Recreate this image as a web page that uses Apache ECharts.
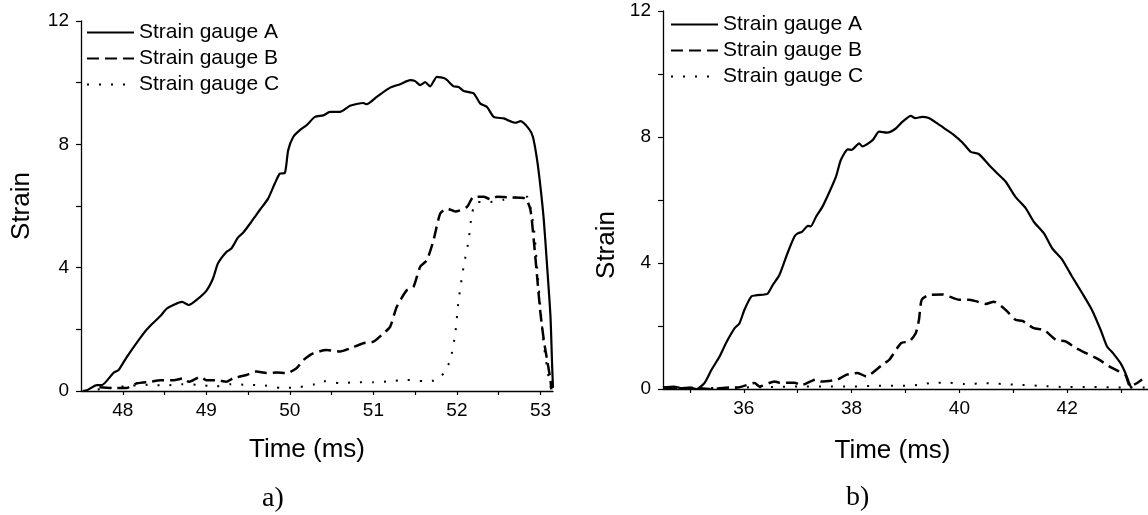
<!DOCTYPE html>
<html>
<head>
<meta charset="utf-8">
<script src="https://cdn.jsdelivr.net/npm/echarts@6/dist/echarts.min.js"></script>
<style>
html,body{margin:0;padding:0;background:#fff;}
#chart{width:1148px;height:515px;}
</style>
</head>
<body>
<div id="chart"></div>
<script>
// ---- Data ----
const seriesNames = ['Strain gauge A', 'Strain gauge B', 'Strain gauge C'];

// Panel a) time (ms) and strain
const tA1 = [47.52, 47.57, 47.69, 47.75, 47.89, 47.95, 48.05, 48.25, 48.35, 48.45, 48.53, 48.71, 48.79, 48.89, 49.0, 49.08, 49.14, 49.24, 49.30, 49.38, 49.44, 49.54, 49.64, 49.74, 49.82, 49.88, 49.94, 49.98, 50.04, 50.12, 50.2, 50.30, 50.40, 50.48, 50.60, 50.72, 50.88, 50.92, 51.04, 51.2, 51.32, 51.44, 51.5, 51.56, 51.62, 51.68, 51.76, 51.86, 51.96, 52.02, 52.08, 52.2, 52.28, 52.36, 52.44, 52.56, 52.70, 52.76, 52.86, 52.91, 52.96, 53.0, 53.04, 53.08, 53.12, 53.14, 53.15];
const vA1 = [0, 0.02, 0.19, 0.19, 0.59, 0.68, 1.11, 1.87, 2.17, 2.43, 2.68, 2.89, 2.79, 2.97, 3.25, 3.65, 4.14, 4.51, 4.62, 4.98, 5.13, 5.49, 5.87, 6.24, 6.73, 7.05, 7.07, 7.81, 8.24, 8.46, 8.62, 8.89, 8.94, 9.05, 9.05, 9.25, 9.34, 9.30, 9.54, 9.84, 9.95, 10.08, 10.05, 9.92, 10.02, 9.88, 10.19, 10.13, 9.88, 9.86, 9.73, 9.65, 9.32, 9.21, 8.89, 8.84, 8.70, 8.75, 8.51, 8.24, 7.49, 6.62, 5.54, 4.03, 2.41, 0.79, 0.1];

const tB1 = [47.72, 47.85, 48.05, 48.17, 48.33, 48.45, 48.61, 48.73, 48.79, 48.93, 49.0, 49.12, 49.24, 49.32, 49.48, 49.6, 49.72, 49.84, 49.96, 50.08, 50.16, 50.28, 50.44, 50.6, 50.72, 50.88, 51.0, 51.12, 51.2, 51.28, 51.4, 51.48, 51.56, 51.64, 51.72, 51.8, 51.88, 51.98, 52.12, 52.2, 52.32, 52.4, 52.48, 52.64, 52.82, 52.88, 52.92, 52.96, 53.0, 53.04, 53.08, 53.12, 53.13];
const vB1 = [0.12, 0.1, 0.1, 0.25, 0.3, 0.35, 0.35, 0.41, 0.3, 0.46, 0.35, 0.35, 0.3, 0.41, 0.52, 0.63, 0.58, 0.6, 0.58, 0.74, 1.0, 1.22, 1.33, 1.28, 1.38, 1.55, 1.6, 1.87, 2.08, 2.73, 3.27, 3.38, 4.03, 4.24, 4.89, 5.76, 5.92, 5.82, 5.97, 6.30, 6.3, 6.22, 6.3, 6.28, 6.25, 5.87, 4.89, 3.70, 2.52, 1.65, 1.0, 0.35, 0.05];

const tC1 = [47.7, 47.9, 48.1, 48.3, 48.5, 48.7, 48.9, 49.1, 49.3, 49.5, 49.7, 49.9, 50.1, 50.3, 50.4, 50.6, 50.8, 51.0, 51.2, 51.4, 51.6, 51.75, 51.84, 51.92, 51.98, 52.02, 52.08, 52.14, 52.18, 52.24, 52.4, 52.56, 52.76, 52.84, 52.92, 52.96, 53.0, 53.04, 53.1, 53.13];
const vC1 = [0.05, 0.12, 0.17, 0.2, 0.18, 0.22, 0.2, 0.15, 0.22, 0.2, 0.18, 0.1, 0.12, 0.22, 0.32, 0.26, 0.28, 0.28, 0.32, 0.36, 0.32, 0.35, 0.57, 1.0, 1.87, 2.95, 4.03, 4.89, 5.76, 6.13, 6.13, 6.2, 6.3, 6.3, 5.3, 4.0, 2.7, 1.5, 0.4, 0.05];

// Panel b)
const tA2 = [34.5, 34.7, 34.85, 35.0, 35.12, 35.27, 35.40, 35.55, 35.67, 35.83, 35.92, 36.01, 36.14, 36.22, 36.38, 36.44, 36.54, 36.66, 36.81, 36.94, 37.0, 37.08, 37.19, 37.24, 37.34, 37.46, 37.59, 37.71, 37.80, 37.93, 38.0, 38.14, 38.2, 38.39, 38.51, 38.66, 38.82, 38.94, 39.10, 39.18, 39.31, 39.43, 39.59, 39.75, 39.90, 40.06, 40.21, 40.36, 40.55, 40.70, 40.86, 41.04, 41.23, 41.38, 41.57, 41.72, 41.91, 42.09, 42.28, 42.46, 42.62, 42.74, 42.85, 42.99, 43.08, 43.14, 43.19];
const vA2 = [0.05, 0.08, 0.02, 0.04, 0, 0.19, 0.61, 1.03, 1.46, 1.93, 2.09, 2.51, 2.94, 2.97, 3.0, 3.02, 3.31, 3.62, 4.31, 4.84, 4.94, 4.99, 5.18, 5.16, 5.47, 5.79, 6.26, 6.74, 7.27, 7.61, 7.59, 7.80, 7.7, 7.9, 8.17, 8.14, 8.27, 8.48, 8.67, 8.6, 8.64, 8.6, 8.43, 8.24, 8.06, 7.82, 7.53, 7.46, 7.11, 6.85, 6.58, 6.1, 5.74, 5.31, 4.94, 4.47, 4.10, 3.57, 3.04, 2.51, 1.88, 1.35, 1.14, 0.82, 0.51, 0.24, 0.03];

const tB2 = [34.5, 34.8, 35.0, 35.36, 35.74, 35.89, 36.2, 36.29, 36.57, 36.66, 36.94, 37.06, 37.34, 37.44, 37.74, 37.9, 38.11, 38.27, 38.57, 38.7, 38.92, 39.07, 39.19, 39.25, 39.30, 39.44, 39.69, 40.0, 40.16, 40.30, 40.49, 40.64, 40.86, 41.04, 41.17, 41.38, 41.57, 41.79, 41.97, 42.16, 42.35, 42.59, 42.78, 42.96, 43.08, 43.17, 43.30, 43.39];
const vB2 = [0.05, 0.02, 0.04, 0, 0.05, 0.05, 0.19, 0.08, 0.24, 0.2, 0.2, 0.12, 0.3, 0.24, 0.3, 0.45, 0.51, 0.4, 0.77, 0.93, 1.46, 1.51, 1.77, 2.2, 2.83, 2.99, 3.0, 2.83, 2.83, 2.79, 2.7, 2.77, 2.51, 2.2, 2.16, 1.93, 1.88, 1.56, 1.51, 1.30, 1.14, 0.93, 0.72, 0.56, 0.45, 0.08, 0.19, 0.3];

const tC2 = [34.5, 35.5, 36.0, 36.5, 37.0, 37.5, 38.0, 38.5, 39.0, 39.3, 39.5, 39.8, 40.1, 40.5, 41.0, 41.5, 42.0, 42.5, 43.0, 43.5];
const vC2 = [0.02, 0.03, 0.05, 0.06, 0.08, 0.08, 0.08, 0.1, 0.1, 0.14, 0.2, 0.2, 0.16, 0.18, 0.14, 0.1, 0.06, 0.06, 0.05, 0.05];

// Tick labels
const xLabelsA = [48, 49, 50, 51, 52, 53];
const xTicksA = [48, 48.5, 49, 49.5, 50, 50.5, 51, 51.5, 52, 52.5, 53];
const xLabelsB = [36, 38, 40, 42];
const xTicksB = [35, 36, 37, 38, 39, 40, 41, 42, 43];
const yLabels = [0, 4, 8, 12];
const yTicks = [0, 2, 4, 6, 8, 10, 12];

const xTitle = 'Time (ms)';
const yTitle = 'Strain';
const captions = ['a)', 'b)'];

// ---- Build ----
const zip = (t, v) => t.map((x, i) => [x, v[i]]);
const FONT = '"Liberation Sans", Arial, sans-serif';

const lineStyles = [
  { color: '#000', width: 2.2, type: 'solid' },
  { color: '#000', width: 2.5, type: [12, 6] },
  { color: '#000', width: 2, type: [2, 10] }
];

function xAxisCfg(grid, min, max, labels, ticks, padRight, gap) {
  return {
    type: 'value', gridIndex: grid, min: min, max: max,
    name: xTitle, nameLocation: 'middle', nameGap: gap,
    nameTextStyle: { fontFamily: FONT, fontSize: 26, color: '#000', padding: [0, padRight, 0, 0] },
    axisLine: { show: true, onZero: false, lineStyle: { color: '#000', width: 1.3 } },
    axisTick: { show: true, inside: false, length: 4, customValues: ticks, lineStyle: { color: '#000', width: 1.2 } },
    axisLabel: { customValues: labels, margin: 10, fontFamily: FONT, fontSize: 19, color: '#000' },
    splitLine: { show: false }
  };
}
function yAxisCfg(grid, nameGap, shift) {
  return {
    type: 'value', gridIndex: grid, min: 0, max: 12,
    name: yTitle, nameLocation: 'middle', nameGap: nameGap,
    nameTextStyle: { fontFamily: FONT, fontSize: 26, color: '#000', padding: [0, shift, 0, 0] },
    axisLine: { show: true, onZero: false, lineStyle: { color: '#000', width: 1.3 } },
    axisTick: { show: true, inside: false, length: 5, customValues: yTicks, lineStyle: { color: '#000', width: 1.2 } },
    axisLabel: { customValues: yLabels, margin: 12, fontFamily: FONT, fontSize: 19, color: '#000' },
    splitLine: { show: false }
  };
}

const dataSets = [
  [zip(tA1, vA1), zip(tB1, vB1), zip(tC1, vC1)],
  [zip(tA2, vA2), zip(tB2, vB2), zip(tC2, vC2)]
];

const series = [];
dataSets.forEach((sets, gi) => {
  sets.forEach((d, si) => {
    series.push({
      type: 'line', name: seriesNames[si], xAxisIndex: gi, yAxisIndex: gi,
      data: d, showSymbol: false, symbol: 'none', smooth: 0.2,
      itemStyle: { color: '#000' },
      lineStyle: lineStyles[si], animation: false, z: 3 - si
    });
  });
});

function legendCfg(left, top) {
  return {
    orient: 'vertical', left: left, top: top, data: seriesNames,
    itemWidth: 47, itemHeight: 14, itemGap: 5, selectedMode: false,
    itemStyle: { opacity: 0 },
    textStyle: { fontFamily: FONT, fontSize: 21, color: '#000' }
  };
}

const chart = echarts.init(document.getElementById('chart'), null, { renderer: 'canvas' });
chart.setOption({
  backgroundColor: '#fff',
  color: ['#000', '#000', '#000'],
  animation: false,
  grid: [
    { left: 81, top: 21, right: 595, bottom: 124 },
    { left: 663, top: 11, right: 0, bottom: 126 }
  ],
  legend: [legendCfg(81, 17), legendCfg(665, 9)],
  xAxis: [
    xAxisCfg(0, 47.5, 53.15, xLabelsA, xTicksA, 20, 46),
    xAxisCfg(1, 34.5, 43.5, xLabelsB, xTicksB, 26, 49)
  ],
  yAxis: [yAxisCfg(0, 46, 0), yAxisCfg(1, 43, 90)],
  series: series,
  graphic: [
    { type: 'text', left: 262, top: 485, style: { text: captions[0], font: '28px "Liberation Serif", "Times New Roman", serif', fill: '#000' } },
    { type: 'text', left: 846, top: 484, style: { text: captions[1], font: '28px "Liberation Serif", "Times New Roman", serif', fill: '#000' } }
  ]
});
</script>
</body>
</html>
